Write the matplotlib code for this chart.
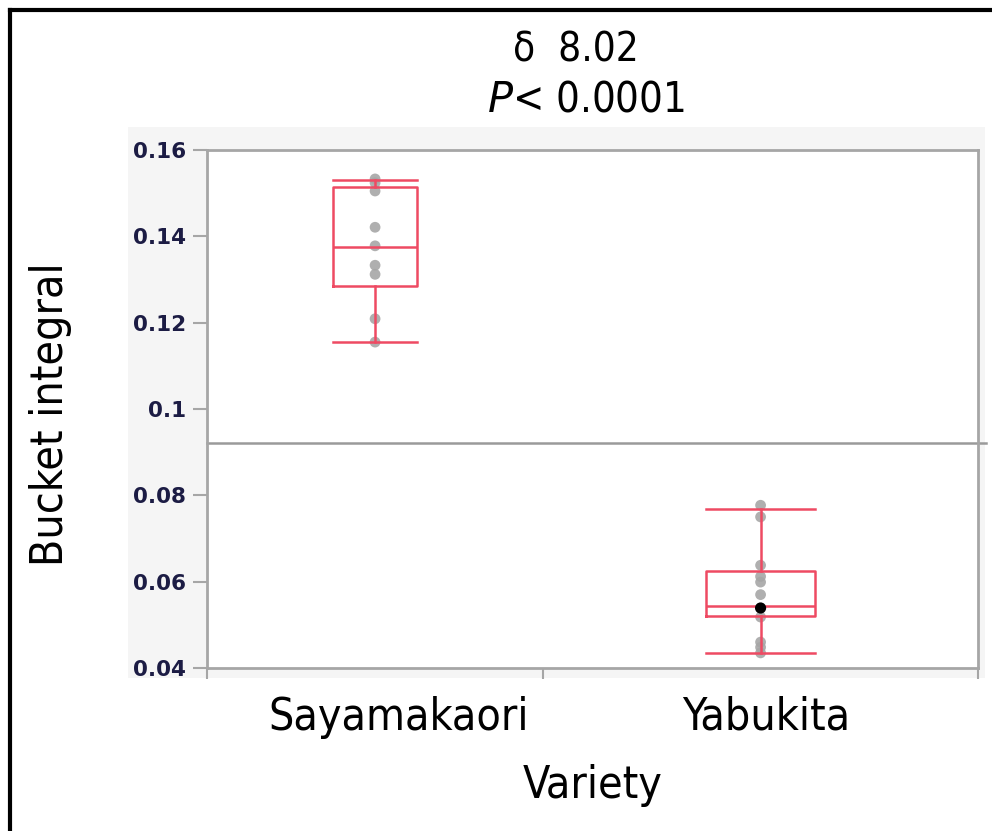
import matplotlib
matplotlib.use("Agg")
import matplotlib.pyplot as plt
from matplotlib.patches import Rectangle
from matplotlib.lines import Line2D

# data (JMP one-way plot)
varieties = ["Sayamakaori", "Yabukita"]
sayama_vals = [0.1533, 0.1524, 0.1505, 0.1421, 0.1378, 0.1333, 0.1312, 0.1209, 0.1155]
yabu_vals = [0.0777, 0.0750, 0.0638, 0.0612, 0.0599, 0.0570, 0.0518, 0.0460, 0.0448, 0.0435]
yabu_marked = [0.0539]  # the one black (selected) point
grand_mean = 0.0921
# box stats (JMP quantiles)
box_q1 = [0.1285, 0.0520]
box_med = [0.1375, 0.0543]
box_q3 = [0.1514, 0.0625]
box_lo = [0.1155, 0.0435]
box_hi = [0.1530, 0.0768]
yticks = [0.04, 0.06, 0.08, 0.1, 0.12, 0.14, 0.16]
ytick_labels = ["0.04", "0.06", "0.08", "0.1", "0.12", "0.14", "0.16"]

# JMP gives each group a share of the axis
seg = [0.436, 0.564]
starts = [0, seg[0]]
centers = [s + w / 2 for s, w in zip(starts, seg)]
box_w = [0.25 * w for w in seg]
label_pos = [0.248, 0.725]  # JMP puts the names a bit off the box centres

W, H = 992, 831
fig = plt.figure(figsize=(W / 100, H / 100), dpi=100)
fig.patch.set_facecolor("white")

fnt = dict(family="DejaVu Sans", stretch="condensed")

# light grey panel behind axis area
fig.patches.append(Rectangle((128 / W, 1 - 678 / H), (985 - 128) / W, (678 - 127) / H,
                             transform=fig.transFigure, facecolor="#f5f5f5",
                             edgecolor="none", zorder=-5))
# black frame (left + top edges visible)
fig.lines.append(Line2D([10 / W, 10 / W], [0, 1 - 10 / H], transform=fig.transFigure,
                        color="black", lw=3))
fig.lines.append(Line2D([10 / W, 1], [1 - 10 / H, 1 - 10 / H], transform=fig.transFigure,
                        color="black", lw=3))

ax = fig.add_axes([207 / W, 1 - 668 / H, (978 - 207) / W, (668 - 150) / H])
ax.set_facecolor("white")
ax.set_xlim(0, 1)
ax.set_ylim(0.04, 0.16)

gray = "#a6a6a6"
red = "#ee4a63"

# grand mean line (runs a little past the right spine)
ax.plot([0, 1.01], [grand_mean, grand_mean], color="#9a9a9a", lw=1.8, zorder=1,
        clip_on=False)

# points
ax.scatter([centers[0]] * len(sayama_vals), sayama_vals, s=60, color=gray,
           edgecolors="none", zorder=2, alpha=0.9, clip_on=False)
ax.scatter([centers[1]] * len(yabu_vals), yabu_vals, s=60, color=gray,
           edgecolors="none", zorder=2, alpha=0.9, clip_on=False)
ax.scatter([centers[1]] * len(yabu_marked), yabu_marked, s=65, color="black",
           edgecolors="none", zorder=4)

stats = []
for i in range(2):
    stats.append(dict(q1=box_q1[i], med=box_med[i], q3=box_q3[i],
                      whislo=box_lo[i], whishi=box_hi[i], label=varieties[i]))
ax.bxp(stats, positions=centers, widths=box_w, capwidths=box_w, showfliers=False,
       boxprops=dict(color=red, lw=1.8), medianprops=dict(color=red, lw=1.8),
       whiskerprops=dict(color=red, lw=1.8), capprops=dict(color=red, lw=1.8),
       manage_ticks=False, zorder=3)

for sp in ax.spines.values():
    sp.set_color(gray)
    sp.set_linewidth(2)

ax.set_yticks(yticks)
ax.set_yticklabels(ytick_labels)
ax.tick_params(axis="y", length=10, width=1.5, color=gray, labelsize=15.5,
               labelcolor="#1c1c44", pad=5)
for t in ax.get_yticklabels():
    t.set_fontweight("bold")

ax.set_xticks([0, seg[0], 1])
ax.set_xticklabels(["", "", ""])
ax.tick_params(axis="x", which="major", length=8, width=1.5, color=gray)
ax.set_xticks(label_pos, minor=True)
ax.set_xticklabels(varieties, minor=True, fontsize=32, **fnt)
ax.tick_params(axis="x", which="minor", length=0, pad=20)

ax.set_xlabel("Variety", fontsize=32, labelpad=18, **fnt)
ax.set_ylabel("Bucket integral", fontsize=32, **fnt)
ax.yaxis.set_label_coords(-0.175, 0.49)

fig.text(576 / W, 1 - 50 / H, "δ  8.02", ha="center", va="center", fontsize=29, **fnt)
fig.text(586 / W, 1 - 100 / H, r"$P$< 0.0001", ha="center", va="center", fontsize=30,
         **fnt)

fig.savefig("out.png", dpi=100, facecolor="white")
